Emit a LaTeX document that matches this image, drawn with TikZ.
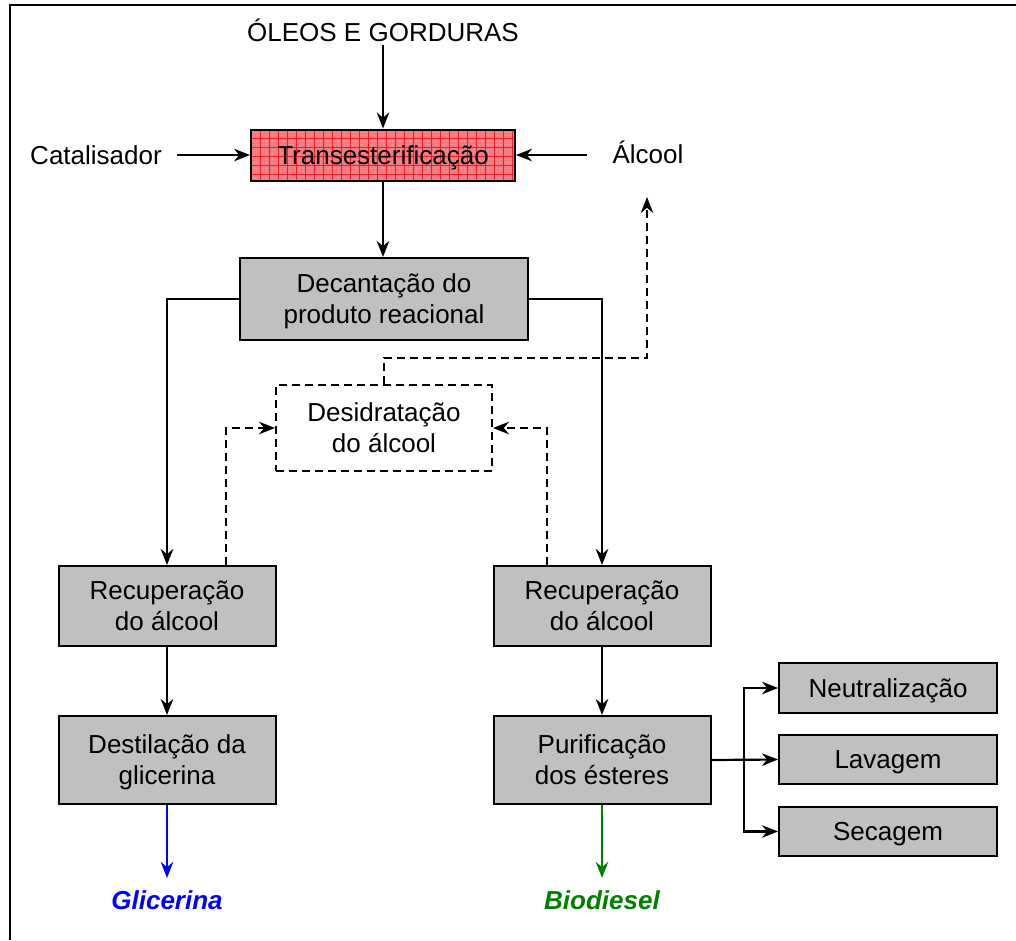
\documentclass[tikz,border=0pt]{standalone}
\usepackage{fontspec}
\setmainfont{Liberation Sans}
\usetikzlibrary{arrows.meta}
\definecolor{boxgray}{RGB}{192,192,192}
\definecolor{tred}{RGB}{244,120,125}
\definecolor{gridred}{RGB}{232,30,40}
\definecolor{bgreen}{RGB}{0,128,0}
\begin{document}
\begin{tikzpicture}[x=1pt,y=-1pt,
  font=\fontsize{26}{31}\selectfont,
  box/.style={draw, line width=2pt, fill=boxgray, align=center, inner sep=0pt, text depth=-10pt},
  arr/.style={line width=2.2pt, -{Stealth[length=16pt,width=12.5pt]}},
  dsh/.style={dash pattern=on 8pt off 5pt},
  outtxt/.style={font=\fontsize{26}{31}\selectfont\bfseries\itshape}]
\useasboundingbox (0,0) rectangle (1016,940);
\draw[line width=2.4pt] (10,940) -- (10,5) -- (1016,5);

\node (oleos) at (383,30) {ÓLEOS E GORDURAS};
\node (cat) at (96,155) {Catalisador};
\node (alc) at (648,152) {Álcool};
\node[box, fill=tred, minimum width=264pt, minimum height=51pt,
  path picture={
    \foreach \i in {0,...,100} {
      \draw[gridred!55, line width=0.4pt]
        ([xshift=\i*3pt]path picture bounding box.north west) --
        ([xshift=\i*3pt]path picture bounding box.south west);
    }
    \foreach \i in {0,...,20} {
      \draw[gridred!55, line width=0.4pt]
        ([yshift=-\i*3pt]path picture bounding box.north west) --
        ([yshift=-\i*3pt]path picture bounding box.north east);
    }
    \foreach \i in {0,...,33} {
      \draw[gridred, line width=0.8pt]
        ([xshift=\i*9pt]path picture bounding box.north west) --
        ([xshift=\i*9pt]path picture bounding box.south west);
    }
    \foreach \i in {0,...,7} {
      \draw[gridred, line width=0.8pt]
        ([yshift=-\i*9pt]path picture bounding box.north west) --
        ([yshift=-\i*9pt]path picture bounding box.north east);
    }
  }] (trans) at (383,155) {Transesterificação};

\node[box, minimum width=288pt, minimum height=82pt] (dec) at (384,299) {Decantação do\\produto reacional};
\node[draw, dsh, line width=2pt, fill=white, align=center, inner sep=0pt, text depth=-10pt,
  minimum width=216pt, minimum height=86pt] (des) at (384,428) {Desidratação\\do álcool};
\node[box, minimum width=217pt, minimum height=80pt] (recL) at (167,606) {Recuperação\\do álcool};
\node[box, minimum width=217pt, minimum height=80pt] (recR) at (602,606) {Recuperação\\do álcool};
\node[box, minimum width=217pt, minimum height=88pt] (dest) at (167,760) {Destilação da\\glicerina};
\node[box, minimum width=217pt, minimum height=88pt] (pur) at (602,760) {Purificação\\dos ésteres};
\node[box, minimum width=218pt, minimum height=50pt] (neu) at (888,688) {Neutralização};
\node[box, minimum width=218pt, minimum height=49pt] (lav) at (888,759.5) {Lavagem};
\node[box, minimum width=218pt, minimum height=49pt] (sec) at (888,831.5) {Secagem};
\node[outtxt, text=blue] (gli) at (167,900) {Glicerina};
\node[outtxt, text=bgreen] (bio) at (602,900) {Biodiesel};

\coordinate (ret) at (647,197);
\coordinate (br) at (744,760);

\draw[arr] (oleos) -- (trans);
\draw[arr, shorten <=12pt] (cat) -- (trans);
\draw[arr, shorten <=22pt] (alc.west |- trans) -- (trans);
\draw[arr] (trans) -- (dec.north -| trans);
\draw[arr] (dec.west) -| (recL);
\draw[arr] (dec.east) -| (recR);
\draw[arr] (recL) -- (dest);
\draw[arr] (recR) -- (pur);
\draw[arr, blue, shorten >=9pt] (dest) -- (gli);
\draw[arr, bgreen, shorten >=9pt] (pur) -- (bio);
\draw[arr] (pur.east) -- (lav.west);
\draw[arr] (br) |- (neu.west);
\draw[arr] (br) |- (sec.west);

\draw[arr, dsh] (des.north) -- ++(0,-26) -| (ret);
\draw[arr, dsh] ([xshift=59pt]recL.north) |- (des.west);
\draw[arr, dsh] ([xshift=-55pt]recR.north) |- (des.east);
\end{tikzpicture}
\end{document}
